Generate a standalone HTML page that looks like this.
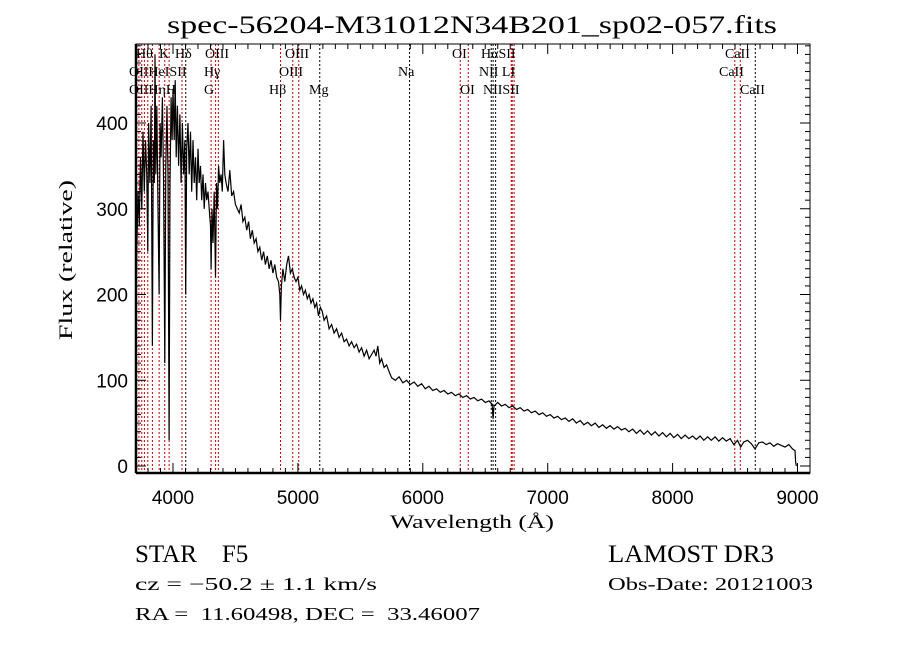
<!DOCTYPE html>
<html><head><meta charset="utf-8"><style>
body{margin:0;background:#fff;}
svg{display:block;font-family:"Liberation Serif",serif;}
</style></head><body>
<svg id="chart" width="900" height="649" viewBox="0 0 900 649" xmlns="http://www.w3.org/2000/svg">
<rect width="900" height="649" fill="#fff"/>
<text x="167" y="33" font-size="25" textLength="610" lengthAdjust="spacingAndGlyphs">spec-56204-M31012N34B201_sp02-057.fits</text>
<g id="lines"></g>
<g id="labels" font-size="14"></g>
<path id="spec" fill="none" stroke="#000" stroke-width="1.2"/>
<g id="axes"></g>
<text x="472" y="528" font-size="19" text-anchor="middle" textLength="164" lengthAdjust="spacingAndGlyphs">Wavelength (Å)</text>
<text transform="translate(72,260) rotate(-90)" font-size="19" text-anchor="middle" textLength="160" lengthAdjust="spacingAndGlyphs">Flux (relative)</text>
<text x="135" y="562" font-size="25" xml:space="preserve">STAR    F5</text>
<text x="608" y="562" font-size="25" textLength="166" lengthAdjust="spacingAndGlyphs">LAMOST DR3</text>
<text x="135" y="590" font-size="18" textLength="242" lengthAdjust="spacingAndGlyphs">cz = −50.2 ± 1.1 km/s</text>
<text x="608" y="590" font-size="18" textLength="205" lengthAdjust="spacingAndGlyphs">Obs-Date: 20121003</text>
<text x="135" y="620" font-size="18" textLength="345" lengthAdjust="spacingAndGlyphs" xml:space="preserve">RA =  11.60498, DEC =  33.46007</text>
</svg>
<script>
const wl=[3700,3703,3710,3720,3730,3740,3750,3760,3770,3780,3790,3798,3805,3815,3825,3835,3842,3850,3856,3862,3870,3880,3889,3897,3905,3915,3925,3934,3942,3952,3960,3969,3976,3985,3993,4000,4010,4018,4026,4035,4045,4055,4065,4075,4085,4095,4102,4110,4120,4130,4140,4150,4160,4170,4180,4190,4200,4210,4220,4230,4240,4250,4260,4270,4280,4290,4300,4305,4312,4320,4330,4340,4348,4356,4365,4375,4385,4395,4405,4415,4425,4440,4455,4470,4485,4500,4515,4530,4545,4560,4575,4590,4605,4620,4635,4650,4665,4680,4695,4710,4725,4740,4755,4770,4785,4800,4815,4830,4845,4855,4861,4868,4880,4895,4910,4925,4940,4955,4970,4985,5000,5015,5030,5045,5060,5075,5090,5105,5120,5135,5150,5165,5180,5195,5210,5230,5250,5270,5290,5310,5330,5350,5370,5390,5410,5430,5450,5470,5490,5510,5530,5550,5570,5590,5610,5625,5640,5655,5670,5690,5710,5730,5750,5780,5810,5840,5870,5900,5930,5960,5990,6020,6050,6080,6110,6140,6170,6200,6230,6260,6290,6320,6350,6380,6410,6440,6470,6500,6530,6555,6563,6570,6600,6630,6660,6690,6720,6750,6780,6810,6840,6870,6900,6930,6960,6990,7020,7050,7080,7110,7140,7170,7200,7230,7260,7290,7320,7350,7380,7410,7440,7470,7500,7530,7560,7590,7620,7650,7680,7710,7740,7770,7800,7830,7860,7890,7920,7950,7980,8010,8040,8070,8100,8130,8160,8190,8220,8250,8280,8310,8340,8370,8400,8430,8460,8490,8520,8545,8570,8600,8630,8660,8690,8720,8750,8780,8810,8840,8870,8900,8930,8960,8980,8985,8990];
const flux=[0,150,250,320,280,360,300,390,320,380,340,250,400,330,420,140,380,330,480,340,420,300,200,400,360,430,330,120,350,420,340,30,330,430,380,440,380,450,360,420,350,410,330,400,340,380,200,370,400,340,390,320,380,330,360,310,370,330,350,310,340,300,330,310,320,300,280,230,300,260,320,220,330,300,350,330,340,320,380,340,330,320,345,315,320,305,300,295,305,285,290,275,285,265,275,260,265,250,255,240,250,235,245,230,240,225,235,220,215,200,170,210,230,215,235,245,225,230,220,215,220,205,210,200,205,195,200,190,195,185,190,175,185,180,170,175,160,165,155,160,150,155,145,148,140,145,138,142,133,138,128,135,125,130,135,128,140,120,125,115,118,110,103,100,104,97,100,95,98,93,96,90,93,88,90,86,88,84,86,82,84,80,82,78,80,76,78,74,76,72,55,70,74,70,72,68,70,66,68,64,66,62,64,60,62,58,60,56,58,54,56,52,55,50,53,48,51,47,50,45,48,44,47,43,46,42,44,40,43,38,42,37,41,36,40,35,39,34,38,33,37,32,36,32,35,31,35,30,34,30,34,29,33,29,32,25,30,22,28,30,26,20,27,28,25,27,23,26,24,22,25,20,18,5,0];
const lineWl=[3727,3750,3771,3798,3835,3889,3934,3969,4072,4102,4305,4341,4363,4861,4959,5007,5175,5894,6300,6364,6548,6563,6583,6708,6716,6731,8498,8542,8662];
const lineIsRed=[1,1,1,1,1,1,1,1,1,0,1,1,1,1,1,1,0,0,1,1,0,0,0,1,1,1,1,1,0];
const xTicks=[4000,5000,6000,7000,8000,9000];
const yTicks=[0,100,200,300,400];
const lineLabels=[["Hθ",136,58],["K",159,58],["Hδ",175,58],["OIII",205,58],["OIII",285,58],["OI",452,58],["HαSII",481,58],["CaII",725,58],
["OIIHeISII",129,76],["Hγ",204,76],["OIII",279,76],["Na",398,76],["NII LI",479,76],["CaII",719,76],
["OIIHηH",129,94],["G",204,94],["Hβ",269,94],["Mg",309,94],["OI",460,94],["NIISII",483,94],["CaII",740,94]];
const L=136,R=810,T=44,B=473;
const X=w=>173+(w-4000)*0.1249;
const Y=f=>466-f*0.8575;
const NS="http://www.w3.org/2000/svg";
function mk(tag,attrs,parent){const e=document.createElementNS(NS,tag);for(const k in attrs)e.setAttribute(k,attrs[k]);parent.appendChild(e);return e;}
const gl=document.getElementById('lines');
lineWl.forEach((w,i)=>{const l=mk('line',{x1:X(w),x2:X(w),y1:T,y2:B,stroke:lineIsRed[i]?'#c00000':'#000','stroke-width':1,'stroke-dasharray':'2,2'},gl);

});
const glab=document.getElementById('labels');
lineLabels.forEach(d=>{const t=mk('text',{x:d[1],y:d[2]},glab);t.textContent=d[0];

});
let d='';wl.forEach((w,i)=>{d+=(i?'L':'M')+X(w).toFixed(1)+','+Y(flux[i]).toFixed(1);});
document.getElementById('spec').setAttribute('d',d);
const ga=document.getElementById('axes');
mk('rect',{x:L,y:T,width:R-L,height:B-T,fill:'none',stroke:'#000','stroke-width':1},ga);
mk('line',{x1:L,x2:L,y1:T,y2:B,stroke:'#000','stroke-width':2.5},ga);
mk('line',{x1:L,x2:R,y1:B,y2:B,stroke:'#000','stroke-width':2.5},ga);
for(let w=3800;w<=9100;w+=100){const x=X(w);const len=(w%1000===0)?10:5;
mk('line',{x1:x,x2:x,y1:B,y2:B-len,stroke:'#000'},ga);mk('line',{x1:x,x2:x,y1:T,y2:T+len,stroke:'#000'},ga);}
for(let f=0;f<=490;f+=10){const y=Y(f);const len=(f%100===0)?10:5;
mk('line',{x1:L,x2:L+len,y1:y,y2:y,stroke:'#000'},ga);mk('line',{x1:R,x2:R-len,y1:y,y2:y,stroke:'#000'},ga);}
xTicks.forEach(v=>{const t=mk('text',{x:X(v),y:504,'font-size':19,'text-anchor':'middle','font-family':'Liberation Sans, sans-serif'},ga);t.textContent=v;

});
yTicks.forEach(v=>{const t=mk('text',{x:128,y:Y(v)+7,'font-size':19,'text-anchor':'end','font-family':'Liberation Sans, sans-serif'},ga);t.textContent=v;

});
</script>
</body></html>
